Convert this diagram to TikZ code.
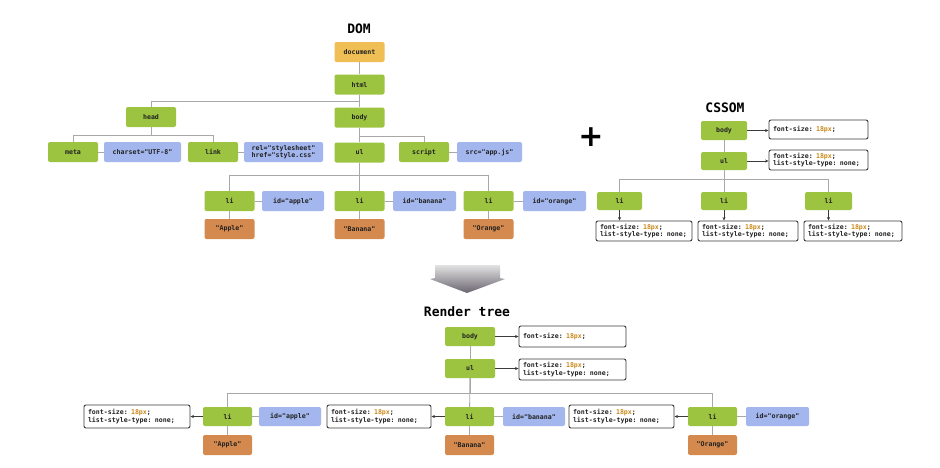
\documentclass[tikz,border=0pt]{standalone}
\usepackage{fontspec}
\setmonofont{DejaVu Sans Mono}
\newfontfamily\plusfont{DejaVu Sans}
\usetikzlibrary{arrows.meta,shadings}
\definecolor{cgreen}{HTML}{9CC441}
\definecolor{corange}{HTML}{EFBE55}
\definecolor{cblue}{HTML}{A3B7EE}
\definecolor{cbrown}{HTML}{D4894E}
\definecolor{cline}{HTML}{A8A8A8}
\definecolor{cborder}{HTML}{3A3A3A}
\definecolor{cnum}{HTML}{C98A1C}
\definecolor{ctext}{HTML}{222222}
\definecolor{arrtop}{HTML}{E2E2E2}
\definecolor{arrbot}{HTML}{6A6470}
\newcommand{\px}{\textcolor{cnum}{18px}}
\tikzset{
  lbl/.style={font=\ttfamily\bfseries\fontsize{6.6}{7.4}\selectfont, text=ctext, inner sep=0pt, rounded corners=2pt, minimum height=20pt, align=center},
  gn/.style={lbl, fill=cgreen, minimum width=50pt},
  dc/.style={lbl, fill=corange, minimum width=50pt},
  bl/.style={lbl, fill=cblue},
  tx/.style={lbl, fill=cbrown, minimum width=50pt},
  sty/.style={font=\ttfamily\bfseries\fontsize{6.6}{7.4}\selectfont, text=ctext, draw=cborder, line width=0.9pt, fill=white, rounded corners=2pt, align=left, inner xsep=4pt, inner ysep=0pt, minimum height=20pt},
  conn/.style={draw=cline, line width=0.8pt},
  arr/.style={draw=cborder, line width=0.7pt, -{Stealth[length=3.5pt,width=3pt]}},
  ttl/.style={font=\ttfamily\bfseries\fontsize{13}{15}\selectfont, text=black, inner sep=0pt}
}
\begin{document}
\begin{tikzpicture}[x=1pt,y=-1pt]
\useasboundingbox (0,0) rectangle (940,467);
\fill[white] (0,0) rectangle (940,467);
% ---------- DOM ----------
\node[ttl] (domt) at (359,29) {DOM};
\node[dc] (doc) at (359.5,52) {document};
\node[gn] (html) at (359.5,84.5) {html};
\node[gn] (body) at (359.5,117.5) {body};
\node[gn] (head) at (151,117) {head};
\node[gn] (meta) at (73,152) {meta};
\node[bl, minimum width=77pt] (charset) at (142.5,152) {charset="UTF-8"};
\node[gn] (link) at (213,152) {link};
\node[bl, minimum width=79pt] (relhref) at (283.5,152) {rel="stylesheet"\\href="style.css"};
\node[gn] (ul) at (359.5,152.5) {ul};
\node[gn] (script) at (424,152) {script};
\node[bl, minimum width=65pt] (src) at (489.5,152) {src="app.js"};
\node[gn] (li1) at (229.5,201) {li};
\node[bl, minimum width=62pt] (id1) at (293,201) {id="apple"};
\node[gn] (li2) at (359.5,201) {li};
\node[bl, minimum width=63pt] (id2) at (424.5,201) {id="banana"};
\node[gn] (li3) at (488.5,201) {li};
\node[bl, minimum width=63pt] (id3) at (554.5,201) {id="orange"};
\node[tx] (t1) at (229.5,229) {"Apple"};
\node[tx] (t2) at (359.5,229) {"Banana"};
\node[tx] (t3) at (488.5,229) {"Orange"};
\draw[conn] (doc) -- (html);
\draw[conn] (html) -- (body);
\draw[conn] (html.south) -- ++(0,6.5) -| (head.north);
\draw[conn] (body) -- (ul);
\draw[conn] (body.south) -- ++(0,8.5) -| (script.north);
\draw[conn] (head.south) -- ++(0,8) -| (meta.north);
\draw[conn] (head.south) -- ++(0,8) -| (link.north);
\draw[conn] (meta) -- (charset);
\draw[conn] (link) -- (relhref);
\draw[conn] (script) -- (src);
\draw[conn] (ul.south) -- ++(0,12.5) -| (li1.north);
\draw[conn] (ul) -- (li2);
\draw[conn] (ul.south) -- ++(0,12.5) -| (li3.north);
\draw[conn] (li1) -- (id1); \draw[conn] (li2) -- (id2); \draw[conn] (li3) -- (id3);
\draw[conn] (li1) -- (t1); \draw[conn] (li2) -- (t2); \draw[conn] (li3) -- (t3);
% ---------- plus ----------
\node[font=\plusfont\bfseries\fontsize{30}{30}\selectfont, inner sep=0pt] (plus) at (591,137.5) {+};
% ---------- CSSOM ----------
\node[ttl] (csst) at (725,108) {CSSOM};
\node[gn, minimum width=46pt, minimum height=19pt] (cbody) at (724,130.5) {body};
\node[sty, text width=91pt, minimum height=19pt] (cbodys) at (818.5,129.5) {font-size: \px;};
\node[gn, minimum width=46pt, minimum height=18pt] (cul) at (724,161) {ul};
\node[sty, text width=91pt] (culs) at (818.5,160) {font-size: \px;\\list-style-type: none;};
\node[gn, minimum width=45pt, minimum height=18pt] (cli1) at (619.5,201) {li};
\node[gn, minimum width=46pt, minimum height=18pt] (cli2) at (724,201) {li};
\node[gn, minimum width=47pt, minimum height=18pt] (cli3) at (828.5,201) {li};
\node[sty, text width=88pt] (cls1) at (644,231) {font-size: \px;\\list-style-type: none;};
\node[sty, text width=92pt] (cls2) at (748,231) {font-size: \px;\\list-style-type: none;};
\node[sty, text width=90pt] (cls3) at (853,231) {font-size: \px;\\list-style-type: none;};
\draw[conn] (cbody) -- (cul);
\draw[conn] (cul.south) -- ++(0,9) -| (cli1.north);
\draw[conn] (cul) -- (cli2);
\draw[conn] (cul.south) -- ++(0,9) -| (cli3.north);
\draw[arr] (cbody.east) -- (cbodys.west |- cbody.east);
\draw[arr] (cul.east) -- (culs.west |- cul.east);
\draw[arr] (cli1.south) -- (cli1.south |- cls1.north);
\draw[arr] (cli2.south) -- (cli2.south |- cls2.north);
\draw[arr] (cli3.south) -- (cli3.south |- cls3.north);
% ---------- big arrow ----------
\shade[top color=arrtop, bottom color=arrbot] (435,265) -- (500,265) -- (500,278) -- (505,279) -- (467,293) -- (430,279) -- (435,278) -- cycle;
% ---------- Render tree ----------
\node[ttl] (rt) at (467,312) {Render tree};
\node[gn, minimum height=19pt] (rbody) at (470,336.5) {body};
\node[sty, text width=99pt, minimum height=21pt] (rbodys) at (572.5,336.5) {font-size: \px;};
\node[gn, minimum height=19pt] (rul) at (470,368.5) {ul};
\node[sty, text width=99pt, minimum height=21pt] (ruls) at (572.5,369.5) {font-size: \px;\\list-style-type: none;};
\node[gn, minimum width=49pt, minimum height=19pt] (rli1) at (227.5,416.5) {li};
\node[bl, minimum width=62pt, minimum height=19pt] (rid1) at (290,416.5) {id="apple"};
\node[sty, text width=98pt, minimum height=23pt] (rs1) at (137,416.5) {font-size: \px;\\list-style-type: none;};
\node[tx, minimum width=49pt] (rt1) at (227.5,445) {"Apple"};
\node[gn, minimum width=49pt, minimum height=19pt] (rli2) at (469.5,416.5) {li};
\node[bl, minimum width=62pt, minimum height=19pt] (rid2) at (534,416.5) {id="banana"};
\node[sty, text width=96pt, minimum height=23pt] (rs2) at (379,416.5) {font-size: \px;\\list-style-type: none;};
\node[tx, minimum width=49pt] (rt2) at (469.5,445) {"Banana"};
\node[gn, minimum width=49pt, minimum height=19pt] (rli3) at (712.5,416.5) {li};
\node[bl, minimum width=63pt, minimum height=19pt] (rid3) at (777.5,416.5) {id="orange"};
\node[sty, text width=97pt, minimum height=23pt] (rs3) at (621.5,416.5) {font-size: \px;\\list-style-type: none;};
\node[tx, minimum width=49pt] (rt3) at (712.5,445) {"Orange"};
\draw[conn] (rbody) -- (rul);
\draw[conn] (rul.south) -- ++(0,15) -| (rli1.north);
\draw[conn] (rul) -- (rli2);
\draw[conn] (rul.south) -- ++(0,15) -| (rli3.north);
\draw[arr] (rbody.east) -- (rbodys.west |- rbody.east);
\draw[arr] (rul.east) -- (ruls.west |- rul.east);
\draw[arr] (rli1.west) -- (rs1.east |- rli1.west);
\draw[arr] (rli2.west) -- (rs2.east |- rli2.west);
\draw[arr] (rli3.west) -- (rs3.east |- rli3.west);
\draw[conn] (rli1) -- (rid1); \draw[conn] (rli2) -- (rid2); \draw[conn] (rli3) -- (rid3);
\draw[conn] (rli1) -- (rt1); \draw[conn] (rli2) -- (rt2); \draw[conn] (rli3) -- (rt3);
\end{tikzpicture}
\end{document}
